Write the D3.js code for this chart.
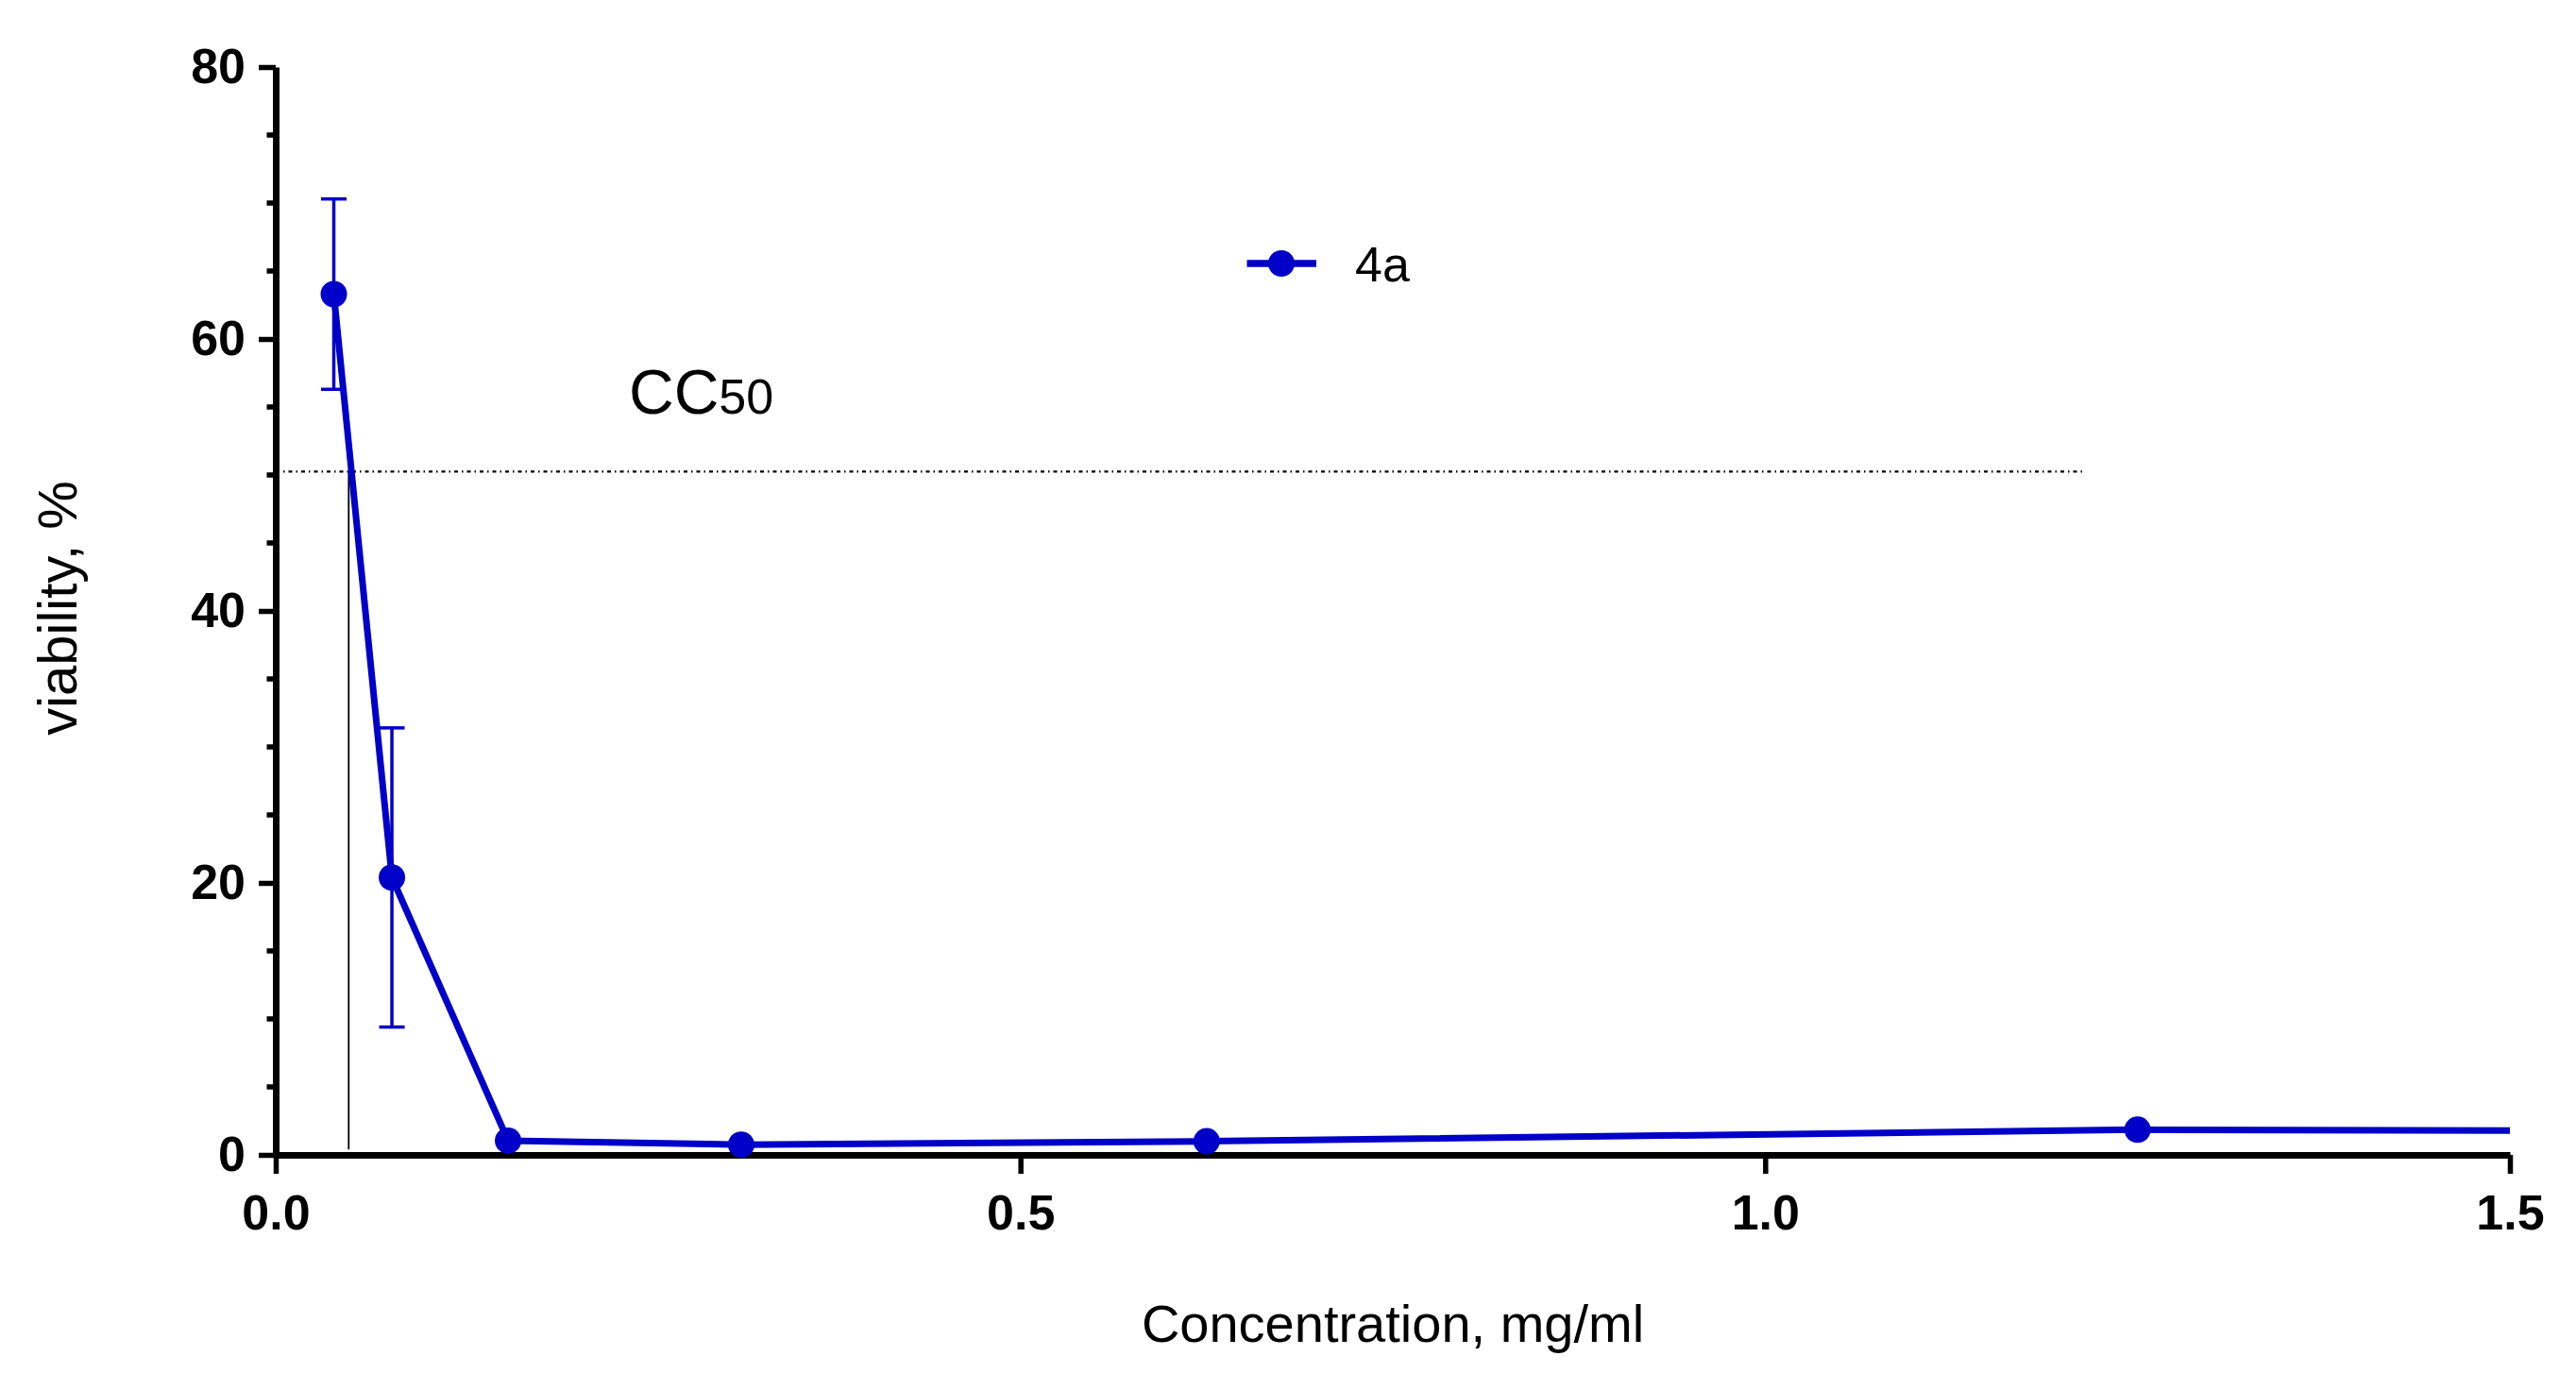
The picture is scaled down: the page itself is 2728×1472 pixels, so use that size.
<!DOCTYPE html>
<html>
<head>
<meta charset="utf-8">
<script src="https://cdn.jsdelivr.net/npm/d3@7"></script>
<style>
  html, body { margin: 0; padding: 0; background: #fff; }
  svg { display: block; font-family: "Liberation Sans", Arial, Helvetica, sans-serif; }
</style>
</head>
<body>
<div id="chart"></div>
<script>
// Data
const concentrations = [0.039, 0.078, 0.156, 0.3125, 0.625, 1.25, 2.5];
const viability      = [63.3, 20.4, 1.05, 0.75, 1.0, 1.85, 1.5];
const viabilitySD    = [7.0, 11.0, 0, 0, 0, 0, 0];
const seriesName = "4a";

const xTicks = [0, 0.5, 1.0, 1.5];
const yTicks = [0, 20, 40, 60, 80];
const yMinorTicks = [5, 10, 15, 25, 30, 35, 45, 50, 55, 65, 70, 75];

// CC50 reference lines
const cc50Level = 50.25;
const cc50Conc = 0.049;
const cc50LineEnd = 1.213;

const width = 2728, height = 1472;
const blue = "#0000c8";

const svg = d3.select("#chart").append("svg")
  .attr("width", width)
  .attr("height", height);

svg.append("rect").attr("width", width).attr("height", height).attr("fill", "#fff");

const x = d3.scaleLinear().domain([0, 1.5]).range([292, 2658]);
const y = d3.scaleLinear().domain([0, 80]).range([1223, 71]);

// clip area for the series (line is cut at the end of the x axis)
svg.append("clipPath").attr("id", "plot-clip")
  .append("rect")
  .attr("x", x(0)).attr("y", 0)
  .attr("width", x(1.5) - x(0)).attr("height", y(0) + 10);

// CC50 lines
svg.append("line")
  .attr("x1", x(0)).attr("x2", x(cc50LineEnd))
  .attr("y1", y(cc50Level)).attr("y2", y(cc50Level))
  .attr("stroke", "#000").attr("stroke-width", 2.2)
  .attr("stroke-dasharray", "4,4,1.5,4");

svg.append("line")
  .attr("x1", x(cc50Conc)).attr("x2", x(cc50Conc))
  .attr("y1", y(cc50Level)).attr("y2", y(0.4))
  .attr("stroke", "#000").attr("stroke-width", 1.8);

const cc = svg.append("text")
  .attr("x", 666).attr("y", 438)
  .attr("fill", "#000");
cc.append("tspan").attr("font-size", 66).text("CC");
cc.append("tspan").attr("font-size", 52).text("50");

// axes
const yAxis = svg.append("g")
  .attr("transform", `translate(${x(0)},0)`)
  .call(d3.axisLeft(y).tickValues(yTicks).tickSize(18).tickPadding(14).tickSizeOuter(0));

yAxis.selectAll(".minor")
  .data(yMinorTicks)
  .join("line")
  .attr("class", "minor")
  .attr("x1", 0).attr("x2", -9.5)
  .attr("y1", d => y(d)).attr("y2", d => y(d))
  .attr("stroke", "#000").attr("stroke-width", 5.5);

const xAxis = svg.append("g")
  .attr("transform", `translate(0,${y(0)})`)
  .call(d3.axisBottom(x).tickValues(xTicks).tickFormat(d3.format(".1f"))
    .tickSize(20).tickPadding(22).tickSizeOuter(0));

[yAxis, xAxis].forEach(a => {
  a.select(".domain").attr("stroke", "#000").attr("stroke-width", 7);
  a.selectAll(".tick line").attr("stroke", "#000").attr("stroke-width", 5.5);
  a.selectAll(".tick text")
    .attr("fill", "#000")
    .attr("font-size", 52)
    .attr("font-weight", "bold")
    .attr("font-family", "'Liberation Sans', Arial, Helvetica, sans-serif");
});

// axis titles
svg.append("text")
  .attr("x", (x(0) + x(1.5)) / 2).attr("y", 1421)
  .attr("text-anchor", "middle")
  .attr("font-size", 56)
  .attr("fill", "#000")
  .text("Concentration, mg/ml");

svg.append("text")
  .attr("transform", `translate(81,${(y(0) + y(80)) / 2 - 3}) rotate(-90)`)
  .attr("text-anchor", "middle")
  .attr("font-size", 58)
  .attr("fill", "#000")
  .text("viability, %");

// series
const points = concentrations.map((c, i) => ({ c, v: viability[i], sd: viabilitySD[i] }));

const plot = svg.append("g").attr("clip-path", "url(#plot-clip)");

plot.selectAll(".err")
  .data(points.filter(d => d.sd > 0))
  .join("g")
  .attr("class", "err")
  .each(function(d) {
    const g = d3.select(this);
    const cx = x(d.c);
    g.append("line")
      .attr("x1", cx).attr("x2", cx)
      .attr("y1", y(d.v + d.sd)).attr("y2", y(d.v - d.sd))
      .attr("stroke", blue).attr("stroke-width", 3.5);
    [d.v + d.sd, d.v - d.sd].forEach(e => {
      g.append("line")
        .attr("x1", cx - 13.5).attr("x2", cx + 13.5)
        .attr("y1", y(e)).attr("y2", y(e))
        .attr("stroke", blue).attr("stroke-width", 3.5);
    });
  });

plot.append("path")
  .datum(points)
  .attr("fill", "none")
  .attr("stroke", blue)
  .attr("stroke-width", 7)
  .attr("stroke-linejoin", "round")
  .attr("d", d3.line().x(d => x(d.c)).y(d => y(d.v)));

plot.selectAll(".pt")
  .data(points)
  .join("circle")
  .attr("class", "pt")
  .attr("cx", d => x(d.c))
  .attr("cy", d => y(d.v))
  .attr("r", 14)
  .attr("fill", blue);

// legend
const legend = svg.append("g").attr("transform", "translate(1357,279)");
legend.append("line")
  .attr("x1", -36.5).attr("x2", 37)
  .attr("stroke", blue).attr("stroke-width", 7.5);
legend.append("circle").attr("r", 14).attr("fill", blue);
legend.append("text")
  .attr("x", 78).attr("y", 19)
  .attr("font-size", 52)
  .attr("fill", "#000")
  .text(seriesName);
</script>
</body>
</html>
